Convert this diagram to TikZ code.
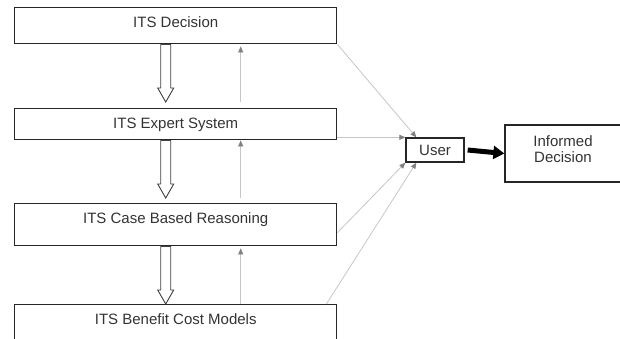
\documentclass[tikz,border=0pt]{standalone}
\usepackage{fontspec}
\setmainfont{Liberation Sans}
\usetikzlibrary{arrows.meta,calc}

\tikzset{
  layer/.style={draw=black!85, line width=1.4pt, minimum width=322pt, inner xsep=0pt,
    inner ysep=0pt, text height=20pt, anchor=north west, font=\fontsize{15}{17}\selectfont, text=black!80},
  plainbox/.style={draw=black!85, line width=1.3pt, inner sep=0pt, align=center,
    font=\fontsize{15}{16}\selectfont, text=black!80},
  feed/.style={draw=gray!45, line width=0.8pt, -{Triangle[length=6pt,width=5pt,color=gray]}},
  hollow/.style={draw=black!75, line width=0.9pt, fill=white}
}

% hollow block arrow between two points
\newcommand{\hollowarrow}[2]{%
  \draw[hollow] let \p1=(#1), \p2=(#2) in
    (\x1-5pt,\y1) -- (\x1-5pt,\y2+14pt) -- (\x1-8pt,\y2+14pt) -- (\x1,\y2)
    -- (\x1+8pt,\y2+14pt) -- (\x1+5pt,\y2+14pt) -- (\x1+5pt,\y1) -- cycle;}

\begin{document}
\begin{tikzpicture}[x=1pt,y=-1pt]
\useasboundingbox (0,0) rectangle (620,338);
\clip (0,0) rectangle (620,338);

\node[layer, text depth=16pt] (dec) at (14,7) {ITS Decision};
\node[layer, text depth=11pt] (exp) at (14,108) {ITS Expert System};
\node[layer, text depth=22pt] (cbr) at (14,203) {ITS Case Based Reasoning};
\node[layer, text depth=20pt] (bcm) at (14,304) {ITS Benefit Cost Models};

\node[plainbox, minimum width=58pt, minimum height=24pt] (user) at (435,150) {User};
\node[plainbox, minimum width=116pt, minimum height=57pt] (inf) at (563,153.5)
  {Informed\\Decision\rule[-9pt]{0pt}{0pt}};

% down the layers
\hollowarrow{$(dec.south)+(-10,0)$}{$(exp.north)+(-10,-6)$}
\hollowarrow{$(exp.south)+(-10,0)$}{$(cbr.north)+(-10,-5)$}
\hollowarrow{$(cbr.south)+(-10,0)$}{$(bcm.north)+(-10,0)$}

% back up
\draw[feed] ($(exp.north)+(65,-6)$) -- ($(dec.south)+(65,2)$);
\draw[feed] ($(cbr.north)+(65,-5)$) -- ($(exp.south)+(65,0)$);
\draw[feed] ($(bcm.north)+(65,0)$) -- ($(cbr.south)+(65,2)$);

% to the user
\draw[feed] (dec.south east) -- ($(user.north west)+(11,0)$);
\draw[feed] (user.north west -| exp.east) -- (user.north west);
\draw[feed] ($(cbr.east)+(0,8)$) -- (user.south west);
\draw[feed] ($(bcm.north east)+(-11,0)$) -- ($(user.south west)+(11,0)$);

\draw[line width=5pt, -{Triangle[length=11pt,width=13pt]}] ($(user.east)+(3,0)$) -- (inf.west);

\end{tikzpicture}
\end{document}
